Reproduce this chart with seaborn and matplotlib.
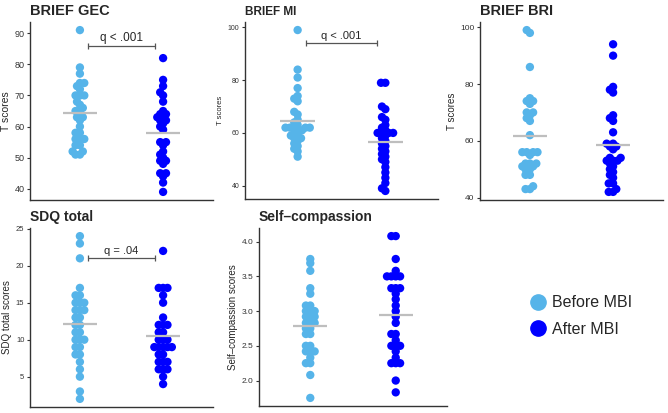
import pandas as pd
import seaborn as sns
import matplotlib.pyplot as plt
from matplotlib.lines import Line2D

# Werte (vorher / nachher)
groups = ["Before MBI", "After MBI"]
colors = {"Before MBI": "#56B4E9", "After MBI": "#0000FF"}

gec_before = [91, 79, 77, 74, 74, 73, 72, 70, 70, 70, 68, 67, 66, 65, 65,
              63, 63, 62, 60, 58, 58, 56, 56, 56, 54, 54, 52, 51, 51, 52]
gec_after = [82, 75, 73, 71, 70, 68, 65, 64, 64, 63, 63, 62, 62, 61, 60,
             59, 55, 55, 54, 52, 51, 50, 49, 49, 48, 45, 45, 44, 42, 39]

mi_before = [99, 84, 81, 77, 74, 73, 72, 62, 62, 61, 68, 67, 59, 65, 64,
             63, 62, 62, 62, 61, 60, 59, 58, 58, 57, 56, 55, 54, 53, 51]
mi_after = [79, 79, 70, 69, 66, 65, 63, 62, 61, 60, 60, 60, 60, 59, 58,
            57, 56, 55, 54, 53, 52, 51, 50, 49, 47, 45, 43, 41, 39, 38]

bri_before = [99, 98, 86, 75, 74, 74, 73, 70, 70, 69, 68, 67, 62, 56, 56,
              56, 56, 55, 52, 52, 52, 51, 51, 50, 50, 48, 48, 44, 43, 43]
bri_after = [94, 90, 79, 78, 77, 69, 68, 67, 53, 63, 57, 59, 59, 58, 58,
             54, 54, 53, 53, 52, 51, 50, 49, 48, 47, 45, 45, 43, 42, 42]

sdq_before = [24, 23, 21, 17, 16, 16, 15, 15, 15, 14, 14, 14, 13, 13, 12,
              12, 11, 11, 10, 10, 10, 9, 9, 8, 8, 7, 6, 5, 3, 2]
sdq_after = [22, 17, 17, 17, 16, 15, 13, 12, 12, 12, 11, 11, 10, 10, 10,
             9, 9, 9, 9, 9, 8, 8, 7, 7, 7, 6, 6, 6, 5, 4]

sc_before = [3.75, 3.69, 3.58, 3.33, 3.25, 3.08, 3.08, 3.0, 3.0, 3.0, 2.92, 2.92, 2.92, 2.83, 2.83,
             2.83, 2.75, 2.75, 2.67, 2.67, 2.5, 2.5, 2.42, 2.42, 2.42, 2.33, 2.25, 2.25, 2.08, 1.75]
sc_after = [4.08, 4.08, 3.75, 3.58, 3.5, 3.5, 3.5, 3.5, 3.33, 3.33, 3.33, 3.25, 3.17, 3.08, 3.0,
            2.92, 2.83, 2.67, 2.67, 2.58, 2.5, 2.5, 2.5, 2.42, 2.33, 2.25, 2.25, 2.25, 2.0, 1.83]

sns.set_style("ticks")
plt.rcParams['font.family'] = ['Liberation Sans', 'DejaVu Sans']

W, H = 668, 413
fig = plt.figure(figsize=(W / 100, H / 100), dpi=100)


def px_rect(left, top, right, bottom):
    return [left / W, 1 - bottom / H, (right - left) / W, (bottom - top) / H]


panels = [
    # rect, before, after, title, ylabel, ticks, fmt, title fs, tick fs, label fs, sig
    (px_rect(30, 22, 213, 200), gec_before, gec_after, "BRIEF GEC", "T scores",
     [40, 50, 60, 70, 80, 90], "{:.0f}", 10.5, 6.5, 7.5, (86, "q < .001", 8.5)),
    (px_rect(245, 22, 438, 199), mi_before, mi_after, "BRIEF MI", "T scores",
     [40, 60, 80, 100], "{:.0f}", 8.5, 5, 5.5, (94, "q < .001", 8)),
    (px_rect(480, 22, 663, 200), bri_before, bri_after, "BRIEF BRI", "T scores",
     [40, 60, 80, 100], "{:.0f}", 10.5, 6, 7, None),
    (px_rect(30, 228, 213, 407), sdq_before, sdq_after, "SDQ total", "SDQ total scores",
     [5, 10, 15, 20, 25], "{:.0f}", 10, 5.5, 7, (21.1, "q = .04", 8)),
    (px_rect(259, 228, 447, 406), sc_before, sc_after, "Self\u2013compassion", "Self\u2013compassion scores",
     [2.0, 2.5, 3.0, 3.5, 4.0], "{:.1f}", 10, 6, 7, None),
]

swarms = []
for rect, before, after, title, ylabel, ticks, fmt, tfs, kfs, lfs, sig in panels:
    df = pd.DataFrame({
        "group": [groups[0]] * len(before) + [groups[1]] * len(after),
        "score": before + after,
    })
    ax = fig.add_axes(rect)
    n_before = len(ax.collections)
    sns.swarmplot(data=df, x="group", y="score", hue="group", order=groups,
                  palette=colors, size=3.0, linewidth=0, legend=False, ax=ax,
                  warn_thresh=1)
    swarms += ax.collections[n_before:]

    # Mittelwert als graue Linie
    means = df.groupby("group")["score"].mean()
    for i, g in enumerate(groups):
        ax.hlines(means[g], i - 0.2, i + 0.2, color="#BEBEBE", lw=1.6, zorder=3)

    lo, hi = df["score"].min(), df["score"].max()
    pad = 0.05 * (hi - lo)
    ax.set_ylim(lo - pad, hi + pad)
    ax.set_xlim(-0.6, 1.6)
    ax.set_yticks(ticks)
    ax.set_yticklabels([fmt.format(t) for t in ticks], fontsize=kfs, color="#333333")
    ax.set_xticks([])
    ax.set_xlabel("")
    ax.set_ylabel(ylabel, fontsize=lfs, labelpad=2.5)
    ax.tick_params(axis="y", length=2.5, width=0.8, color="#333333", pad=1.5)
    sns.despine(ax=ax)
    for s in ("left", "bottom"):
        ax.spines[s].set_color("#333333")
        ax.spines[s].set_linewidth(1.0)
    ax.set_title(title, loc="left", fontweight="bold", fontsize=tfs, pad=5)

    if sig is not None:
        y, txt, fs = sig
        ax.plot([0.1, 0.9], [y, y], color="#555555", lw=0.9, marker="|",
                markersize=4, markeredgewidth=0.9)
        ax.annotate(txt, (0.5, y), xytext=(0, 1.5), textcoords="offset points",
                    ha="center", va="bottom", fontsize=fs)

handles = [Line2D([], [], marker="o", ls="", color=colors[g], markersize=11) for g in groups]
fig.legend(handles, groups, loc="center left", bbox_to_anchor=(514 / W, 1 - 316 / H),
           frameon=False, fontsize=11.5, handletextpad=0.3, labelspacing=0.7,
           handlelength=1.2)

# Schwarm einmal mit kleinen Punkten anordnen, dann Punkte vergroessern,
# damit sie sich wie im Original ueberlappen
fig.canvas.draw()
for coll in swarms:
    if "draw" in coll.__dict__:
        del coll.draw
    coll.set_sizes([36])

fig.savefig("out.png", dpi=100)
